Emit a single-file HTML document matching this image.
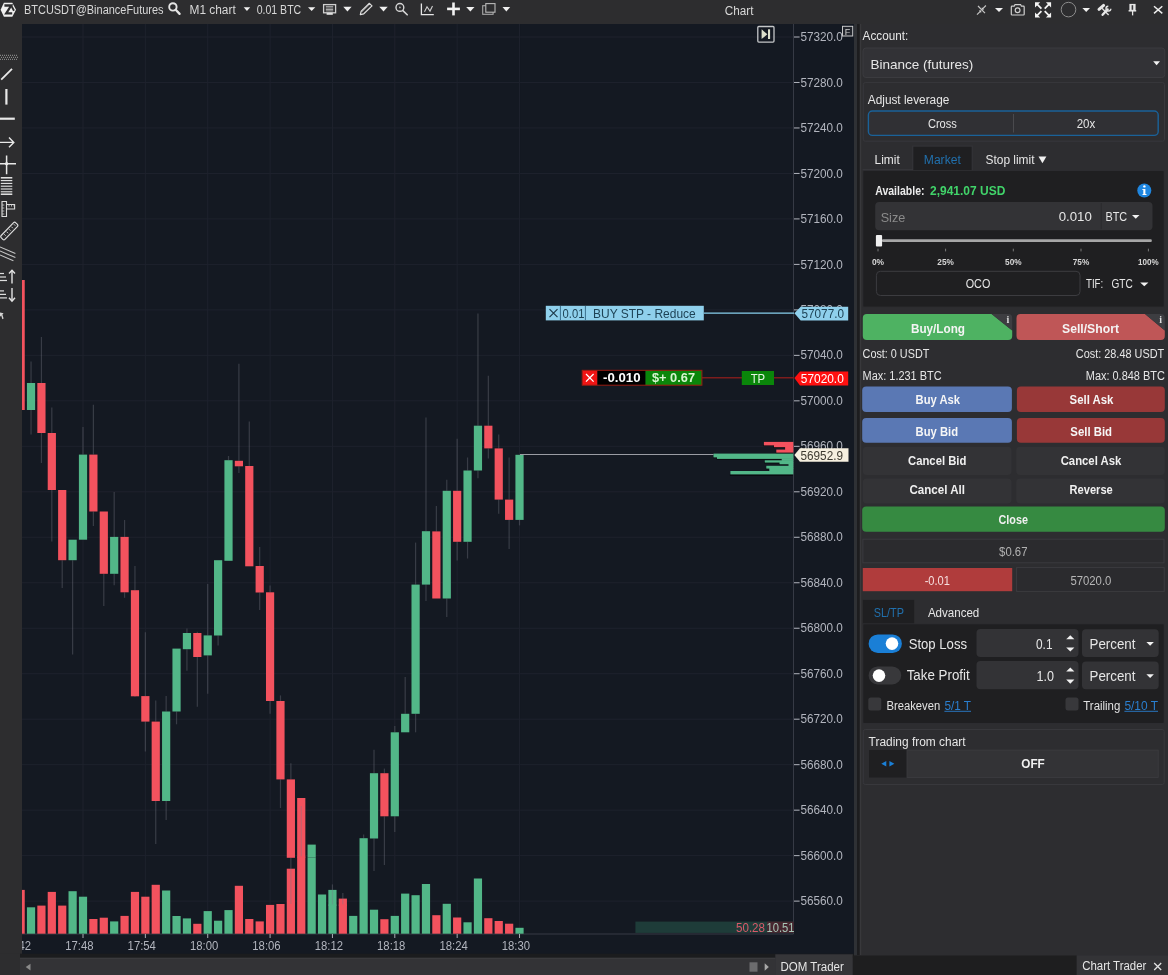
<!DOCTYPE html>
<html><head><meta charset="utf-8"><title>Chart</title>
<style>
html,body{margin:0;padding:0;background:#2d2d30;width:1168px;height:975px;overflow:hidden}
svg{display:block}
text{font-family:"Liberation Sans",Arial,sans-serif}
</style></head>
<body>
<svg width="1168" height="975" viewBox="0 0 1168 975" shape-rendering="auto">
<rect x="0.00" y="0.00" width="1168.00" height="975.00" fill="#2d2d30"/>
<rect x="0.00" y="0.00" width="1168.00" height="24.00" fill="#2d2d2f"/>
<rect x="0.00" y="24.00" width="22.00" height="931.00" fill="#2d2d2f"/>
<rect x="22.00" y="24.00" width="832.00" height="930.00" fill="#141922"/>
<line x1="22.00" y1="37.00" x2="793.50" y2="37.00" stroke="#1e222d" stroke-width="1"/>
<line x1="22.00" y1="82.48" x2="793.50" y2="82.48" stroke="#1e222d" stroke-width="1"/>
<line x1="22.00" y1="127.96" x2="793.50" y2="127.96" stroke="#1e222d" stroke-width="1"/>
<line x1="22.00" y1="173.44" x2="793.50" y2="173.44" stroke="#1e222d" stroke-width="1"/>
<line x1="22.00" y1="218.92" x2="793.50" y2="218.92" stroke="#1e222d" stroke-width="1"/>
<line x1="22.00" y1="264.40" x2="793.50" y2="264.40" stroke="#1e222d" stroke-width="1"/>
<line x1="22.00" y1="309.88" x2="793.50" y2="309.88" stroke="#1e222d" stroke-width="1"/>
<line x1="22.00" y1="355.36" x2="793.50" y2="355.36" stroke="#1e222d" stroke-width="1"/>
<line x1="22.00" y1="400.84" x2="793.50" y2="400.84" stroke="#1e222d" stroke-width="1"/>
<line x1="22.00" y1="446.32" x2="793.50" y2="446.32" stroke="#1e222d" stroke-width="1"/>
<line x1="22.00" y1="491.80" x2="793.50" y2="491.80" stroke="#1e222d" stroke-width="1"/>
<line x1="22.00" y1="537.28" x2="793.50" y2="537.28" stroke="#1e222d" stroke-width="1"/>
<line x1="22.00" y1="582.76" x2="793.50" y2="582.76" stroke="#1e222d" stroke-width="1"/>
<line x1="22.00" y1="628.24" x2="793.50" y2="628.24" stroke="#1e222d" stroke-width="1"/>
<line x1="22.00" y1="673.72" x2="793.50" y2="673.72" stroke="#1e222d" stroke-width="1"/>
<line x1="22.00" y1="719.20" x2="793.50" y2="719.20" stroke="#1e222d" stroke-width="1"/>
<line x1="22.00" y1="764.68" x2="793.50" y2="764.68" stroke="#1e222d" stroke-width="1"/>
<line x1="22.00" y1="810.16" x2="793.50" y2="810.16" stroke="#1e222d" stroke-width="1"/>
<line x1="22.00" y1="855.64" x2="793.50" y2="855.64" stroke="#1e222d" stroke-width="1"/>
<line x1="22.00" y1="901.12" x2="793.50" y2="901.12" stroke="#1e222d" stroke-width="1"/>
<line x1="83.00" y1="24.00" x2="83.00" y2="933.50" stroke="#1e222d" stroke-width="1"/>
<line x1="145.36" y1="24.00" x2="145.36" y2="933.50" stroke="#1e222d" stroke-width="1"/>
<line x1="207.72" y1="24.00" x2="207.72" y2="933.50" stroke="#1e222d" stroke-width="1"/>
<line x1="270.08" y1="24.00" x2="270.08" y2="933.50" stroke="#1e222d" stroke-width="1"/>
<line x1="332.44" y1="24.00" x2="332.44" y2="933.50" stroke="#1e222d" stroke-width="1"/>
<line x1="394.80" y1="24.00" x2="394.80" y2="933.50" stroke="#1e222d" stroke-width="1"/>
<line x1="457.16" y1="24.00" x2="457.16" y2="933.50" stroke="#1e222d" stroke-width="1"/>
<line x1="519.52" y1="24.00" x2="519.52" y2="933.50" stroke="#1e222d" stroke-width="1"/>
<defs><clipPath id="cc"><rect x="22" y="24" width="771.5" height="910"/></clipPath></defs>
<line x1="22.00" y1="934.00" x2="793.50" y2="934.00" stroke="#363a45" stroke-width="1"/>
<g clip-path="url(#cc)">
<rect x="16.54" y="889.90" width="8.20" height="43.80" fill="#f3525e"/>
<rect x="26.93" y="907.30" width="8.20" height="26.40" fill="#52b788"/>
<rect x="37.33" y="905.60" width="8.20" height="28.10" fill="#f3525e"/>
<rect x="47.72" y="891.90" width="8.20" height="41.80" fill="#f3525e"/>
<rect x="58.11" y="905.60" width="8.20" height="28.10" fill="#f3525e"/>
<rect x="68.51" y="891.20" width="8.20" height="42.50" fill="#52b788"/>
<rect x="78.90" y="896.70" width="8.20" height="37.00" fill="#52b788"/>
<rect x="89.29" y="919.00" width="8.20" height="14.70" fill="#f3525e"/>
<rect x="99.69" y="917.70" width="8.20" height="16.00" fill="#f3525e"/>
<rect x="110.08" y="921.40" width="8.20" height="12.30" fill="#52b788"/>
<rect x="120.47" y="915.90" width="8.20" height="17.80" fill="#f3525e"/>
<rect x="130.87" y="891.90" width="8.20" height="41.80" fill="#f3525e"/>
<rect x="141.26" y="896.70" width="8.20" height="37.00" fill="#f3525e"/>
<rect x="151.65" y="884.80" width="8.20" height="48.90" fill="#f3525e"/>
<rect x="162.05" y="890.50" width="8.20" height="43.20" fill="#52b788"/>
<rect x="172.44" y="916.00" width="8.20" height="17.70" fill="#52b788"/>
<rect x="182.83" y="918.40" width="8.20" height="15.30" fill="#52b788"/>
<rect x="193.23" y="923.80" width="8.20" height="9.90" fill="#f3525e"/>
<rect x="203.62" y="911.10" width="8.20" height="22.60" fill="#52b788"/>
<rect x="214.01" y="920.70" width="8.20" height="13.00" fill="#52b788"/>
<rect x="224.41" y="910.10" width="8.20" height="23.60" fill="#52b788"/>
<rect x="234.80" y="885.80" width="8.20" height="47.90" fill="#f3525e"/>
<rect x="245.19" y="919.00" width="8.20" height="14.70" fill="#f3525e"/>
<rect x="255.59" y="921.40" width="8.20" height="12.30" fill="#f3525e"/>
<rect x="265.98" y="904.90" width="8.20" height="28.80" fill="#f3525e"/>
<rect x="276.37" y="904.00" width="8.20" height="29.70" fill="#f3525e"/>
<rect x="286.77" y="868.70" width="8.20" height="65.00" fill="#f3525e"/>
<rect x="297.16" y="798.00" width="8.20" height="135.70" fill="#f3525e"/>
<rect x="307.55" y="857.50" width="8.20" height="76.20" fill="#52b788"/>
<rect x="317.95" y="894.50" width="8.20" height="39.20" fill="#52b788"/>
<rect x="328.34" y="889.90" width="8.20" height="43.80" fill="#52b788"/>
<rect x="338.73" y="898.60" width="8.20" height="35.10" fill="#f3525e"/>
<rect x="349.13" y="915.90" width="8.20" height="17.80" fill="#52b788"/>
<rect x="359.52" y="870.00" width="8.20" height="63.70" fill="#52b788"/>
<rect x="369.91" y="909.70" width="8.20" height="24.00" fill="#52b788"/>
<rect x="380.31" y="919.20" width="8.20" height="14.50" fill="#f3525e"/>
<rect x="390.70" y="915.90" width="8.20" height="17.80" fill="#52b788"/>
<rect x="401.09" y="893.60" width="8.20" height="40.10" fill="#52b788"/>
<rect x="411.49" y="895.20" width="8.20" height="38.50" fill="#52b788"/>
<rect x="421.88" y="884.00" width="8.20" height="49.70" fill="#52b788"/>
<rect x="432.27" y="915.20" width="8.20" height="18.50" fill="#f3525e"/>
<rect x="442.67" y="903.80" width="8.20" height="29.90" fill="#52b788"/>
<rect x="453.06" y="917.50" width="8.20" height="16.20" fill="#f3525e"/>
<rect x="463.45" y="922.30" width="8.20" height="11.40" fill="#52b788"/>
<rect x="473.85" y="878.50" width="8.20" height="55.20" fill="#52b788"/>
<rect x="484.24" y="918.20" width="8.20" height="15.50" fill="#f3525e"/>
<rect x="494.63" y="921.00" width="8.20" height="12.70" fill="#f3525e"/>
<rect x="505.03" y="923.70" width="8.20" height="10.00" fill="#f3525e"/>
<rect x="515.42" y="927.80" width="8.20" height="5.90" fill="#52b788"/>
<line x1="20.64" y1="410.00" x2="20.64" y2="454.60" stroke="#787b86" stroke-width="1.2" stroke-opacity="0.37"/>
<rect x="16.54" y="280.00" width="8.20" height="130.00" fill="#f3525e"/>
<line x1="31.03" y1="361.40" x2="31.03" y2="383.00" stroke="#787b86" stroke-width="1.2" stroke-opacity="0.37"/>
<line x1="31.03" y1="410.00" x2="31.03" y2="434.60" stroke="#787b86" stroke-width="1.2" stroke-opacity="0.37"/>
<rect x="26.93" y="383.00" width="8.20" height="27.00" fill="#52b788"/>
<line x1="41.43" y1="337.00" x2="41.43" y2="383.00" stroke="#787b86" stroke-width="1.2" stroke-opacity="0.37"/>
<line x1="41.43" y1="433.00" x2="41.43" y2="463.00" stroke="#787b86" stroke-width="1.2" stroke-opacity="0.37"/>
<rect x="37.33" y="383.00" width="8.20" height="50.00" fill="#f3525e"/>
<line x1="51.82" y1="407.50" x2="51.82" y2="433.00" stroke="#787b86" stroke-width="1.2" stroke-opacity="0.37"/>
<line x1="51.82" y1="490.00" x2="51.82" y2="541.40" stroke="#787b86" stroke-width="1.2" stroke-opacity="0.37"/>
<rect x="47.72" y="433.00" width="8.20" height="57.00" fill="#f3525e"/>
<line x1="62.21" y1="560.20" x2="62.21" y2="588.00" stroke="#787b86" stroke-width="1.2" stroke-opacity="0.37"/>
<rect x="58.11" y="490.00" width="8.20" height="70.20" fill="#f3525e"/>
<line x1="72.61" y1="560.20" x2="72.61" y2="654.60" stroke="#787b86" stroke-width="1.2" stroke-opacity="0.37"/>
<rect x="68.51" y="539.70" width="8.20" height="20.50" fill="#52b788"/>
<line x1="83.00" y1="427.00" x2="83.00" y2="454.60" stroke="#787b86" stroke-width="1.2" stroke-opacity="0.37"/>
<rect x="78.90" y="454.60" width="8.20" height="85.10" fill="#52b788"/>
<line x1="93.39" y1="404.80" x2="93.39" y2="454.60" stroke="#787b86" stroke-width="1.2" stroke-opacity="0.37"/>
<line x1="93.39" y1="511.50" x2="93.39" y2="526.00" stroke="#787b86" stroke-width="1.2" stroke-opacity="0.37"/>
<rect x="89.29" y="454.60" width="8.20" height="56.90" fill="#f3525e"/>
<line x1="103.79" y1="573.80" x2="103.79" y2="606.00" stroke="#787b86" stroke-width="1.2" stroke-opacity="0.37"/>
<rect x="99.69" y="511.50" width="8.20" height="62.30" fill="#f3525e"/>
<line x1="114.18" y1="492.00" x2="114.18" y2="536.90" stroke="#787b86" stroke-width="1.2" stroke-opacity="0.37"/>
<line x1="114.18" y1="573.80" x2="114.18" y2="585.30" stroke="#787b86" stroke-width="1.2" stroke-opacity="0.37"/>
<rect x="110.08" y="536.90" width="8.20" height="36.90" fill="#52b788"/>
<line x1="124.57" y1="520.00" x2="124.57" y2="536.90" stroke="#787b86" stroke-width="1.2" stroke-opacity="0.37"/>
<line x1="124.57" y1="592.30" x2="124.57" y2="597.80" stroke="#787b86" stroke-width="1.2" stroke-opacity="0.37"/>
<rect x="120.47" y="536.90" width="8.20" height="55.40" fill="#f3525e"/>
<line x1="134.97" y1="566.00" x2="134.97" y2="590.20" stroke="#787b86" stroke-width="1.2" stroke-opacity="0.37"/>
<line x1="134.97" y1="696.30" x2="134.97" y2="697.00" stroke="#787b86" stroke-width="1.2" stroke-opacity="0.37"/>
<rect x="130.87" y="590.20" width="8.20" height="106.10" fill="#f3525e"/>
<line x1="145.36" y1="632.30" x2="145.36" y2="696.10" stroke="#787b86" stroke-width="1.2" stroke-opacity="0.37"/>
<line x1="145.36" y1="721.60" x2="145.36" y2="751.40" stroke="#787b86" stroke-width="1.2" stroke-opacity="0.37"/>
<rect x="141.26" y="696.10" width="8.20" height="25.50" fill="#f3525e"/>
<line x1="155.75" y1="700.60" x2="155.75" y2="721.60" stroke="#787b86" stroke-width="1.2" stroke-opacity="0.37"/>
<line x1="155.75" y1="801.00" x2="155.75" y2="844.00" stroke="#787b86" stroke-width="1.2" stroke-opacity="0.37"/>
<rect x="151.65" y="721.60" width="8.20" height="79.40" fill="#f3525e"/>
<line x1="166.15" y1="696.00" x2="166.15" y2="711.50" stroke="#787b86" stroke-width="1.2" stroke-opacity="0.37"/>
<line x1="166.15" y1="801.00" x2="166.15" y2="820.00" stroke="#787b86" stroke-width="1.2" stroke-opacity="0.37"/>
<rect x="162.05" y="711.50" width="8.20" height="89.50" fill="#52b788"/>
<line x1="176.54" y1="711.50" x2="176.54" y2="724.30" stroke="#787b86" stroke-width="1.2" stroke-opacity="0.37"/>
<rect x="172.44" y="648.60" width="8.20" height="62.90" fill="#52b788"/>
<line x1="186.93" y1="628.60" x2="186.93" y2="633.00" stroke="#787b86" stroke-width="1.2" stroke-opacity="0.37"/>
<line x1="186.93" y1="649.20" x2="186.93" y2="670.80" stroke="#787b86" stroke-width="1.2" stroke-opacity="0.37"/>
<rect x="182.83" y="633.00" width="8.20" height="16.20" fill="#52b788"/>
<line x1="197.33" y1="631.70" x2="197.33" y2="633.00" stroke="#787b86" stroke-width="1.2" stroke-opacity="0.37"/>
<line x1="197.33" y1="657.00" x2="197.33" y2="706.80" stroke="#787b86" stroke-width="1.2" stroke-opacity="0.37"/>
<rect x="193.23" y="633.00" width="8.20" height="24.00" fill="#f3525e"/>
<line x1="207.72" y1="584.00" x2="207.72" y2="635.40" stroke="#787b86" stroke-width="1.2" stroke-opacity="0.37"/>
<line x1="207.72" y1="655.40" x2="207.72" y2="693.80" stroke="#787b86" stroke-width="1.2" stroke-opacity="0.37"/>
<rect x="203.62" y="635.40" width="8.20" height="20.00" fill="#52b788"/>
<line x1="218.11" y1="635.50" x2="218.11" y2="645.40" stroke="#787b86" stroke-width="1.2" stroke-opacity="0.37"/>
<rect x="214.01" y="560.20" width="8.20" height="75.30" fill="#52b788"/>
<line x1="228.51" y1="456.00" x2="228.51" y2="460.20" stroke="#787b86" stroke-width="1.2" stroke-opacity="0.37"/>
<rect x="224.41" y="460.20" width="8.20" height="100.60" fill="#52b788"/>
<line x1="238.90" y1="363.80" x2="238.90" y2="460.80" stroke="#787b86" stroke-width="1.2" stroke-opacity="0.37"/>
<line x1="238.90" y1="466.30" x2="238.90" y2="473.00" stroke="#787b86" stroke-width="1.2" stroke-opacity="0.37"/>
<rect x="234.80" y="460.80" width="8.20" height="5.50" fill="#f3525e"/>
<line x1="249.29" y1="421.40" x2="249.29" y2="466.00" stroke="#787b86" stroke-width="1.2" stroke-opacity="0.37"/>
<rect x="245.19" y="466.00" width="8.20" height="100.30" fill="#f3525e"/>
<line x1="259.69" y1="547.00" x2="259.69" y2="566.00" stroke="#787b86" stroke-width="1.2" stroke-opacity="0.37"/>
<line x1="259.69" y1="592.50" x2="259.69" y2="610.00" stroke="#787b86" stroke-width="1.2" stroke-opacity="0.37"/>
<rect x="255.59" y="566.00" width="8.20" height="26.50" fill="#f3525e"/>
<line x1="270.08" y1="585.50" x2="270.08" y2="592.30" stroke="#787b86" stroke-width="1.2" stroke-opacity="0.37"/>
<line x1="270.08" y1="701.00" x2="270.08" y2="713.80" stroke="#787b86" stroke-width="1.2" stroke-opacity="0.37"/>
<rect x="265.98" y="592.30" width="8.20" height="108.70" fill="#f3525e"/>
<line x1="280.47" y1="695.40" x2="280.47" y2="701.00" stroke="#787b86" stroke-width="1.2" stroke-opacity="0.37"/>
<line x1="280.47" y1="779.40" x2="280.47" y2="808.00" stroke="#787b86" stroke-width="1.2" stroke-opacity="0.37"/>
<rect x="276.37" y="701.00" width="8.20" height="78.40" fill="#f3525e"/>
<line x1="290.87" y1="763.30" x2="290.87" y2="779.40" stroke="#787b86" stroke-width="1.2" stroke-opacity="0.37"/>
<line x1="290.87" y1="857.80" x2="290.87" y2="904.00" stroke="#787b86" stroke-width="1.2" stroke-opacity="0.37"/>
<rect x="286.77" y="779.40" width="8.20" height="78.40" fill="#f3525e"/>
<line x1="301.26" y1="806.00" x2="301.26" y2="856.60" stroke="#787b86" stroke-width="1.2" stroke-opacity="0.37"/>
<rect x="297.16" y="856.60" width="8.20" height="1.00" fill="#f3525e"/>
<rect x="307.55" y="844.60" width="8.20" height="12.90" fill="#52b788"/>
<line x1="332.44" y1="884.40" x2="332.44" y2="904.60" stroke="#787b86" stroke-width="1.2" stroke-opacity="0.37"/>
<rect x="328.34" y="904.60" width="8.20" height="1.00" fill="#52b788"/>
<line x1="342.83" y1="892.90" x2="342.83" y2="904.60" stroke="#787b86" stroke-width="1.2" stroke-opacity="0.37"/>
<rect x="338.73" y="904.60" width="8.20" height="1.00" fill="#f3525e"/>
<line x1="363.62" y1="834.50" x2="363.62" y2="838.20" stroke="#787b86" stroke-width="1.2" stroke-opacity="0.37"/>
<rect x="359.52" y="838.20" width="8.20" height="31.80" fill="#52b788"/>
<line x1="374.01" y1="749.80" x2="374.01" y2="773.20" stroke="#787b86" stroke-width="1.2" stroke-opacity="0.37"/>
<line x1="374.01" y1="838.50" x2="374.01" y2="871.00" stroke="#787b86" stroke-width="1.2" stroke-opacity="0.37"/>
<rect x="369.91" y="773.20" width="8.20" height="65.30" fill="#52b788"/>
<line x1="384.41" y1="768.60" x2="384.41" y2="773.20" stroke="#787b86" stroke-width="1.2" stroke-opacity="0.37"/>
<line x1="384.41" y1="816.30" x2="384.41" y2="865.00" stroke="#787b86" stroke-width="1.2" stroke-opacity="0.37"/>
<rect x="380.31" y="773.20" width="8.20" height="43.10" fill="#f3525e"/>
<line x1="394.80" y1="726.00" x2="394.80" y2="732.30" stroke="#787b86" stroke-width="1.2" stroke-opacity="0.37"/>
<line x1="394.80" y1="816.30" x2="394.80" y2="832.00" stroke="#787b86" stroke-width="1.2" stroke-opacity="0.37"/>
<rect x="390.70" y="732.30" width="8.20" height="84.00" fill="#52b788"/>
<line x1="405.19" y1="677.00" x2="405.19" y2="713.80" stroke="#787b86" stroke-width="1.2" stroke-opacity="0.37"/>
<rect x="401.09" y="713.80" width="8.20" height="18.50" fill="#52b788"/>
<line x1="415.59" y1="542.60" x2="415.59" y2="584.60" stroke="#787b86" stroke-width="1.2" stroke-opacity="0.37"/>
<line x1="415.59" y1="713.80" x2="415.59" y2="732.30" stroke="#787b86" stroke-width="1.2" stroke-opacity="0.37"/>
<rect x="411.49" y="584.60" width="8.20" height="129.20" fill="#52b788"/>
<line x1="425.98" y1="417.40" x2="425.98" y2="531.20" stroke="#787b86" stroke-width="1.2" stroke-opacity="0.37"/>
<line x1="425.98" y1="584.60" x2="425.98" y2="601.00" stroke="#787b86" stroke-width="1.2" stroke-opacity="0.37"/>
<rect x="421.88" y="531.20" width="8.20" height="53.40" fill="#52b788"/>
<line x1="436.37" y1="506.00" x2="436.37" y2="531.40" stroke="#787b86" stroke-width="1.2" stroke-opacity="0.37"/>
<rect x="432.27" y="531.40" width="8.20" height="67.10" fill="#f3525e"/>
<line x1="446.77" y1="479.70" x2="446.77" y2="490.80" stroke="#787b86" stroke-width="1.2" stroke-opacity="0.37"/>
<line x1="446.77" y1="598.50" x2="446.77" y2="617.00" stroke="#787b86" stroke-width="1.2" stroke-opacity="0.37"/>
<rect x="442.67" y="490.80" width="8.20" height="107.70" fill="#52b788"/>
<line x1="457.16" y1="438.70" x2="457.16" y2="490.80" stroke="#787b86" stroke-width="1.2" stroke-opacity="0.37"/>
<line x1="457.16" y1="541.80" x2="457.16" y2="560.60" stroke="#787b86" stroke-width="1.2" stroke-opacity="0.37"/>
<rect x="453.06" y="490.80" width="8.20" height="51.00" fill="#f3525e"/>
<line x1="467.55" y1="457.50" x2="467.55" y2="470.50" stroke="#787b86" stroke-width="1.2" stroke-opacity="0.37"/>
<line x1="467.55" y1="541.80" x2="467.55" y2="558.50" stroke="#787b86" stroke-width="1.2" stroke-opacity="0.37"/>
<rect x="463.45" y="470.50" width="8.20" height="71.30" fill="#52b788"/>
<line x1="477.95" y1="313.50" x2="477.95" y2="425.70" stroke="#787b86" stroke-width="1.2" stroke-opacity="0.37"/>
<line x1="477.95" y1="470.50" x2="477.95" y2="478.30" stroke="#787b86" stroke-width="1.2" stroke-opacity="0.37"/>
<rect x="473.85" y="425.70" width="8.20" height="44.80" fill="#52b788"/>
<line x1="488.34" y1="375.80" x2="488.34" y2="425.70" stroke="#787b86" stroke-width="1.2" stroke-opacity="0.37"/>
<line x1="488.34" y1="448.40" x2="488.34" y2="458.40" stroke="#787b86" stroke-width="1.2" stroke-opacity="0.37"/>
<rect x="484.24" y="425.70" width="8.20" height="22.70" fill="#f3525e"/>
<line x1="498.73" y1="434.60" x2="498.73" y2="448.40" stroke="#787b86" stroke-width="1.2" stroke-opacity="0.37"/>
<line x1="498.73" y1="499.60" x2="498.73" y2="513.80" stroke="#787b86" stroke-width="1.2" stroke-opacity="0.37"/>
<rect x="494.63" y="448.40" width="8.20" height="51.20" fill="#f3525e"/>
<line x1="509.13" y1="457.50" x2="509.13" y2="499.60" stroke="#787b86" stroke-width="1.2" stroke-opacity="0.37"/>
<line x1="509.13" y1="519.90" x2="509.13" y2="549.00" stroke="#787b86" stroke-width="1.2" stroke-opacity="0.37"/>
<rect x="505.03" y="499.60" width="8.20" height="20.30" fill="#f3525e"/>
<line x1="519.52" y1="519.90" x2="519.52" y2="525.40" stroke="#787b86" stroke-width="1.2" stroke-opacity="0.37"/>
<rect x="515.42" y="454.80" width="8.20" height="65.10" fill="#52b788"/>
</g>
<line x1="83.00" y1="934.00" x2="83.00" y2="938.00" stroke="#a8abb3" stroke-width="1"/>
<text x="79.40" y="949.60" font-size="12.5" fill="#b2b5be" text-anchor="middle" textLength="28.30" lengthAdjust="spacingAndGlyphs">17:48</text>
<line x1="145.36" y1="934.00" x2="145.36" y2="938.00" stroke="#a8abb3" stroke-width="1"/>
<text x="141.76" y="949.60" font-size="12.5" fill="#b2b5be" text-anchor="middle" textLength="28.30" lengthAdjust="spacingAndGlyphs">17:54</text>
<line x1="207.72" y1="934.00" x2="207.72" y2="938.00" stroke="#a8abb3" stroke-width="1"/>
<text x="204.12" y="949.60" font-size="12.5" fill="#b2b5be" text-anchor="middle" textLength="28.30" lengthAdjust="spacingAndGlyphs">18:00</text>
<line x1="270.08" y1="934.00" x2="270.08" y2="938.00" stroke="#a8abb3" stroke-width="1"/>
<text x="266.48" y="949.60" font-size="12.5" fill="#b2b5be" text-anchor="middle" textLength="28.30" lengthAdjust="spacingAndGlyphs">18:06</text>
<line x1="332.44" y1="934.00" x2="332.44" y2="938.00" stroke="#a8abb3" stroke-width="1"/>
<text x="328.84" y="949.60" font-size="12.5" fill="#b2b5be" text-anchor="middle" textLength="28.30" lengthAdjust="spacingAndGlyphs">18:12</text>
<line x1="394.80" y1="934.00" x2="394.80" y2="938.00" stroke="#a8abb3" stroke-width="1"/>
<text x="391.20" y="949.60" font-size="12.5" fill="#b2b5be" text-anchor="middle" textLength="28.30" lengthAdjust="spacingAndGlyphs">18:18</text>
<line x1="457.16" y1="934.00" x2="457.16" y2="938.00" stroke="#a8abb3" stroke-width="1"/>
<text x="453.56" y="949.60" font-size="12.5" fill="#b2b5be" text-anchor="middle" textLength="28.30" lengthAdjust="spacingAndGlyphs">18:24</text>
<line x1="519.52" y1="934.00" x2="519.52" y2="938.00" stroke="#a8abb3" stroke-width="1"/>
<text x="515.92" y="949.60" font-size="12.5" fill="#b2b5be" text-anchor="middle" textLength="28.30" lengthAdjust="spacingAndGlyphs">18:30</text>
<g clip-path="url(#cc2)"><text x="17.0" y="949.6" font-size="12.5" fill="#b2b5be" text-anchor="middle" textLength="28.3" lengthAdjust="spacingAndGlyphs">17:42</text></g>
<defs><clipPath id="cc2"><rect x="22" y="934" width="100" height="20"/></clipPath></defs>
<line x1="793.50" y1="24.00" x2="793.50" y2="934.00" stroke="#363a45" stroke-width="1"/>
<line x1="794.00" y1="37.00" x2="799.60" y2="37.00" stroke="#b2b5be" stroke-width="1"/>
<text x="800.40" y="41.10" font-size="12.5" fill="#b2b5be" textLength="42.50" lengthAdjust="spacingAndGlyphs">57320.0</text>
<line x1="794.00" y1="82.48" x2="799.60" y2="82.48" stroke="#b2b5be" stroke-width="1"/>
<text x="800.40" y="86.58" font-size="12.5" fill="#b2b5be" textLength="42.50" lengthAdjust="spacingAndGlyphs">57280.0</text>
<line x1="794.00" y1="127.96" x2="799.60" y2="127.96" stroke="#b2b5be" stroke-width="1"/>
<text x="800.40" y="132.06" font-size="12.5" fill="#b2b5be" textLength="42.50" lengthAdjust="spacingAndGlyphs">57240.0</text>
<line x1="794.00" y1="173.44" x2="799.60" y2="173.44" stroke="#b2b5be" stroke-width="1"/>
<text x="800.40" y="177.54" font-size="12.5" fill="#b2b5be" textLength="42.50" lengthAdjust="spacingAndGlyphs">57200.0</text>
<line x1="794.00" y1="218.92" x2="799.60" y2="218.92" stroke="#b2b5be" stroke-width="1"/>
<text x="800.40" y="223.02" font-size="12.5" fill="#b2b5be" textLength="42.50" lengthAdjust="spacingAndGlyphs">57160.0</text>
<line x1="794.00" y1="264.40" x2="799.60" y2="264.40" stroke="#b2b5be" stroke-width="1"/>
<text x="800.40" y="268.50" font-size="12.5" fill="#b2b5be" textLength="42.50" lengthAdjust="spacingAndGlyphs">57120.0</text>
<line x1="794.00" y1="309.88" x2="799.60" y2="309.88" stroke="#b2b5be" stroke-width="1"/>
<text x="800.40" y="313.98" font-size="12.5" fill="#b2b5be" textLength="42.50" lengthAdjust="spacingAndGlyphs">57080.0</text>
<line x1="794.00" y1="355.36" x2="799.60" y2="355.36" stroke="#b2b5be" stroke-width="1"/>
<text x="800.40" y="359.46" font-size="12.5" fill="#b2b5be" textLength="42.50" lengthAdjust="spacingAndGlyphs">57040.0</text>
<line x1="794.00" y1="400.84" x2="799.60" y2="400.84" stroke="#b2b5be" stroke-width="1"/>
<text x="800.40" y="404.94" font-size="12.5" fill="#b2b5be" textLength="42.50" lengthAdjust="spacingAndGlyphs">57000.0</text>
<line x1="794.00" y1="446.32" x2="799.60" y2="446.32" stroke="#b2b5be" stroke-width="1"/>
<text x="800.40" y="450.42" font-size="12.5" fill="#b2b5be" textLength="42.50" lengthAdjust="spacingAndGlyphs">56960.0</text>
<line x1="794.00" y1="491.80" x2="799.60" y2="491.80" stroke="#b2b5be" stroke-width="1"/>
<text x="800.40" y="495.90" font-size="12.5" fill="#b2b5be" textLength="42.50" lengthAdjust="spacingAndGlyphs">56920.0</text>
<line x1="794.00" y1="537.28" x2="799.60" y2="537.28" stroke="#b2b5be" stroke-width="1"/>
<text x="800.40" y="541.38" font-size="12.5" fill="#b2b5be" textLength="42.50" lengthAdjust="spacingAndGlyphs">56880.0</text>
<line x1="794.00" y1="582.76" x2="799.60" y2="582.76" stroke="#b2b5be" stroke-width="1"/>
<text x="800.40" y="586.86" font-size="12.5" fill="#b2b5be" textLength="42.50" lengthAdjust="spacingAndGlyphs">56840.0</text>
<line x1="794.00" y1="628.24" x2="799.60" y2="628.24" stroke="#b2b5be" stroke-width="1"/>
<text x="800.40" y="632.34" font-size="12.5" fill="#b2b5be" textLength="42.50" lengthAdjust="spacingAndGlyphs">56800.0</text>
<line x1="794.00" y1="673.72" x2="799.60" y2="673.72" stroke="#b2b5be" stroke-width="1"/>
<text x="800.40" y="677.82" font-size="12.5" fill="#b2b5be" textLength="42.50" lengthAdjust="spacingAndGlyphs">56760.0</text>
<line x1="794.00" y1="719.20" x2="799.60" y2="719.20" stroke="#b2b5be" stroke-width="1"/>
<text x="800.40" y="723.30" font-size="12.5" fill="#b2b5be" textLength="42.50" lengthAdjust="spacingAndGlyphs">56720.0</text>
<line x1="794.00" y1="764.68" x2="799.60" y2="764.68" stroke="#b2b5be" stroke-width="1"/>
<text x="800.40" y="768.78" font-size="12.5" fill="#b2b5be" textLength="42.50" lengthAdjust="spacingAndGlyphs">56680.0</text>
<line x1="794.00" y1="810.16" x2="799.60" y2="810.16" stroke="#b2b5be" stroke-width="1"/>
<text x="800.40" y="814.26" font-size="12.5" fill="#b2b5be" textLength="42.50" lengthAdjust="spacingAndGlyphs">56640.0</text>
<line x1="794.00" y1="855.64" x2="799.60" y2="855.64" stroke="#b2b5be" stroke-width="1"/>
<text x="800.40" y="859.74" font-size="12.5" fill="#b2b5be" textLength="42.50" lengthAdjust="spacingAndGlyphs">56600.0</text>
<line x1="794.00" y1="901.12" x2="799.60" y2="901.12" stroke="#b2b5be" stroke-width="1"/>
<text x="800.40" y="905.22" font-size="12.5" fill="#b2b5be" textLength="42.50" lengthAdjust="spacingAndGlyphs">56560.0</text>
<rect x="763.40" y="444.80" width="29.40" height="1.40" fill="#07090c"/>
<rect x="773.50" y="446.60" width="19.30" height="1.40" fill="#07090c"/>
<rect x="784.60" y="449.60" width="8.20" height="1.40" fill="#07090c"/>
<rect x="775.80" y="452.60" width="17.00" height="1.40" fill="#07090c"/>
<rect x="713.00" y="456.80" width="79.80" height="1.40" fill="#07090c"/>
<rect x="716.50" y="458.30" width="76.30" height="1.40" fill="#07090c"/>
<rect x="781.20" y="460.30" width="11.60" height="1.40" fill="#07090c"/>
<rect x="764.30" y="462.00" width="28.50" height="1.40" fill="#07090c"/>
<rect x="779.00" y="463.70" width="13.80" height="1.40" fill="#07090c"/>
<rect x="788.00" y="465.80" width="4.80" height="1.40" fill="#07090c"/>
<rect x="765.80" y="468.00" width="27.00" height="1.40" fill="#07090c"/>
<rect x="768.80" y="470.50" width="24.00" height="1.40" fill="#07090c"/>
<rect x="729.90" y="474.40" width="62.90" height="1.40" fill="#07090c"/>
<rect x="763.90" y="441.90" width="29.40" height="3.50" fill="#f3525e"/>
<rect x="774.00" y="444.80" width="19.30" height="2.40" fill="#f3525e"/>
<rect x="785.10" y="446.60" width="8.20" height="3.60" fill="#f3525e"/>
<rect x="776.30" y="449.60" width="17.00" height="3.00" fill="#f3525e"/>
<rect x="713.50" y="453.60" width="79.80" height="3.80" fill="#52b788"/>
<rect x="717.00" y="456.80" width="76.30" height="2.10" fill="#52b788"/>
<rect x="781.70" y="458.30" width="11.60" height="2.60" fill="#52b788"/>
<rect x="764.80" y="460.30" width="28.50" height="2.30" fill="#52b788"/>
<rect x="779.50" y="462.00" width="13.80" height="2.30" fill="#52b788"/>
<rect x="788.50" y="463.70" width="4.80" height="2.70" fill="#52b788"/>
<rect x="766.30" y="465.80" width="27.00" height="2.80" fill="#52b788"/>
<rect x="769.30" y="468.00" width="24.00" height="3.10" fill="#52b788"/>
<rect x="730.40" y="471.00" width="62.90" height="3.40" fill="#52b788"/>
<line x1="520.00" y1="454.50" x2="713.50" y2="454.50" stroke="#9a9ca3" stroke-width="1"/>
<line x1="703.80" y1="313.20" x2="794.00" y2="313.20" stroke="#87cfee" stroke-width="1.2"/>
<rect x="545.80" y="305.80" width="158.00" height="14.60" fill="#8fd0ec"/>
<line x1="560.40" y1="306.00" x2="560.40" y2="320.20" stroke="#3a6f8c" stroke-width="1"/>
<line x1="585.40" y1="306.00" x2="585.40" y2="320.20" stroke="#3a6f8c" stroke-width="1"/>
<path d="M549.5 309.2 L557.5 317.2 M557.5 309.2 L549.5 317.2" fill="none" stroke="#1e3a4a" stroke-width="1.2"/>
<text x="562.60" y="317.60" font-size="12" fill="#1e4356" textLength="21.80" lengthAdjust="spacingAndGlyphs">0.01</text>
<text x="593.00" y="317.60" font-size="12" fill="#1e4356" textLength="102.70" lengthAdjust="spacingAndGlyphs">BUY STP - Reduce</text>
<path d="M794.4 313.3 L800.7 306.8 L848.2 306.8 L848.2 320.5 L800.7 320.5 Z" fill="#8fd0ec"/>
<text x="801.50" y="318.20" font-size="12.5" fill="#1e4356" textLength="42.50" lengthAdjust="spacingAndGlyphs">57077.0</text>
<line x1="702.00" y1="377.80" x2="794.00" y2="377.80" stroke="#7d1d1d" stroke-width="1.5"/>
<rect x="582.20" y="370.30" width="15.30" height="14.90" fill="#f01414"/>
<path d="M586 374 L593.6 381.6 M593.6 374 L586 381.6" fill="none" stroke="#ffffff" stroke-width="1.3"/>
<rect x="597.50" y="370.30" width="48.00" height="14.90" fill="#000000"/>
<rect x="645.50" y="370.30" width="56.40" height="14.90" fill="#0a860a"/>
<rect x="582.20" y="370.30" width="119.70" height="14.90" fill="none" stroke="#9a1c12" stroke-width="1"/>
<text x="603.00" y="382.20" font-size="12" fill="#ffffff" font-weight="bold" textLength="37.50" lengthAdjust="spacingAndGlyphs">-0.010</text>
<text x="652.00" y="382.20" font-size="12" fill="#d8f5d0" font-weight="bold" textLength="43.00" lengthAdjust="spacingAndGlyphs">$+ 0.67</text>
<rect x="741.80" y="371.00" width="32.20" height="14.00" fill="#0a860a"/>
<text x="757.90" y="382.50" font-size="12" fill="#e6f6e6" text-anchor="middle" textLength="14.50" lengthAdjust="spacingAndGlyphs">TP</text>
<path d="M794.4 378 L800 371.5 L848.2 371.5 L848.2 385.6 L800 385.6 Z" fill="#ff1010"/>
<text x="800.80" y="383.20" font-size="12.5" fill="#ffffff" textLength="43.00" lengthAdjust="spacingAndGlyphs">57020.0</text>
<path d="M794.4 455 L799.9 448.2 L848.5 448.2 L848.5 461.8 L799.9 461.8 Z" fill="#f6efdf"/>
<text x="800.50" y="459.80" font-size="12.5" fill="#3e3a30" textLength="42.50" lengthAdjust="spacingAndGlyphs">56952.9</text>
<rect x="635.40" y="921.60" width="158.40" height="11.30" fill="#1e3c39"/>
<rect x="767.00" y="921.60" width="26.80" height="11.30" fill="#46262f"/>
<text x="736.00" y="931.80" font-size="12.5" fill="#d95a6a" textLength="29.00" lengthAdjust="spacingAndGlyphs">50.28</text>
<text x="766.50" y="931.80" font-size="12.5" fill="#a6c6b6" textLength="28.00" lengthAdjust="spacingAndGlyphs">10.51</text>
<rect x="757.80" y="26.50" width="16.20" height="15.60" fill="none" rx="1" stroke="#c4c6c8" stroke-width="1.3"/>
<path d="M761.6 29.3 L767.4 34.2 L761.6 39 Z" fill="#dcdfcc"/>
<rect x="768.00" y="29.30" width="2.10" height="9.70" fill="#dcdfcc"/>
<rect x="842.50" y="26.30" width="10.20" height="9.70" fill="#22252c" stroke="#c8c8c8" stroke-width="1"/>
<text x="847.60" y="34.60" font-size="9" fill="#d0d0d0" text-anchor="middle">F</text>
<rect x="854.00" y="24.00" width="3.00" height="931.00" fill="#2f3135"/>
<rect x="857.00" y="24.00" width="2.80" height="931.00" fill="#1d1d1f"/>
<rect x="859.80" y="24.00" width="1.40" height="931.00" fill="#38383b"/>
<rect x="0.00" y="953.70" width="22.00" height="21.30" fill="#2d2d2f"/>
<rect x="20.00" y="953.70" width="834.00" height="4.10" fill="#1b1c1e"/>
<rect x="20.00" y="957.80" width="755.30" height="17.20" fill="#333336"/>
<rect x="20.00" y="957.80" width="755.30" height="1.20" fill="#3a3a3d"/>
<rect x="775.30" y="954.30" width="77.50" height="20.70" fill="#363639"/>
<rect x="852.80" y="955.50" width="224.00" height="19.50" fill="#1e1e1f"/>
<rect x="1076.70" y="955.50" width="91.30" height="19.50" fill="#333336"/>
<path d="M30.5 963.7 L25.7 967.1 L30.5 970.5 Z" fill="#8a8a8a"/>
<rect x="749.50" y="962.30" width="8.00" height="9.40" fill="#6c6c6e"/>
<path d="M764.7 963.2 L768.8 967 L764.7 970.8 Z" fill="#a8a8a8"/>
<text x="780.50" y="971.00" font-size="12" fill="#e6e6e6" textLength="63.30" lengthAdjust="spacingAndGlyphs">DOM Trader</text>
<text x="1082.20" y="970.20" font-size="12" fill="#e6e6e6" textLength="64.10" lengthAdjust="spacingAndGlyphs">Chart Trader</text>
<path d="M1154.2 963 L1161.2 970 M1161.2 963 L1154.2 970" fill="none" stroke="#e0e0e0" stroke-width="1.3"/>
<path d="M3.9 2.7 L12.3 2.7 L16 9.7 L12.3 16.8 L3.9 16.8 L0.6 9.7 Z" fill="#efefef"/>
<path d="M4.4 5.5 L11.2 5.5 L6.2 13.4 L12.2 13.4" fill="none" stroke="#2d2d2f" stroke-width="2.3" stroke-linejoin="miter"/>
<path d="M11.2 5.5 L14 10.8" fill="none" stroke="#2d2d2f" stroke-width="1.9"/>
<text x="24.00" y="14.00" font-size="12.5" fill="#d8d8d8" textLength="139.50" lengthAdjust="spacingAndGlyphs">BTCUSDT@BinanceFutures</text>
<circle cx="172.9" cy="6.9" r="3.7" fill="none" stroke="#e4e4e4" stroke-width="1.9"/>
<path d="M175.7 9.8 L179.6 13.9" fill="none" stroke="#e4e4e4" stroke-width="2.3" stroke-linecap="round"/>
<text x="189.50" y="14.00" font-size="12.5" fill="#d8d8d8" textLength="46.20" lengthAdjust="spacingAndGlyphs">M1 chart</text>
<path d="M243.7 7.2 L250.2 7.2 L246.95 11.1 Z" fill="#f0f0f0"/>
<text x="256.70" y="14.00" font-size="12.5" fill="#d8d8d8" textLength="44.50" lengthAdjust="spacingAndGlyphs">0.01 BTC</text>
<path d="M308 7.2 L315.3 7.2 L311.65 11.1 Z" fill="#f0f0f0"/>
<rect x="323.60" y="4.60" width="12.00" height="8.20" fill="none" stroke="#d0d0d0" stroke-width="1.3"/>
<line x1="325.80" y1="6.40" x2="333.20" y2="6.40" stroke="#b8b8b8" stroke-width="0.9"/>
<line x1="325.80" y1="8.00" x2="333.20" y2="8.00" stroke="#b8b8b8" stroke-width="0.9"/>
<line x1="325.80" y1="9.50" x2="333.20" y2="9.50" stroke="#b8b8b8" stroke-width="0.9"/>
<line x1="325.80" y1="10.90" x2="333.20" y2="10.90" stroke="#b8b8b8" stroke-width="0.9"/>
<rect x="326.60" y="12.80" width="6.20" height="2.00" fill="#e0e0e0"/>
<path d="M343.3 6.8 L351.6 6.8 L347.45000000000005 11.4 Z" fill="#f0f0f0"/>
<path d="M360.3 14.6 L361.2 11.2 L369.4 3.3 L372 5.9 L363.8 13.8 Z" fill="none" stroke="#dedede" stroke-width="1.2" stroke-linejoin="round"/>
<line x1="362.00" y1="11.90" x2="369.60" y2="4.60" stroke="#9a9a9a" stroke-width="0.8"/>
<path d="M379.3 6.8 L387.7 6.8 L383.5 11.4 Z" fill="#f0f0f0"/>
<circle cx="399.9" cy="7.4" r="3.9" fill="none" stroke="#d6d6d6" stroke-width="1.4"/>
<circle cx="399.9" cy="7.4" r="0.9" fill="#b0b0b0"/>
<path d="M402.9 10.6 L407.2 14.8" fill="none" stroke="#d6d6d6" stroke-width="1.6" stroke-linecap="round"/>
<path d="M421.4 3.4 L421.4 14.6 L433.8 14.6" fill="none" stroke="#e6e6e6" stroke-width="1.3"/>
<path d="M424.5 11.7 L427 6.8 L430 11.1 L432.5 5.9" fill="none" stroke="#d0d0d0" stroke-width="1.1"/>
<rect x="452.20" y="2.50" width="2.60" height="12.90" fill="#f2f2f2"/>
<rect x="447.10" y="7.60" width="12.80" height="2.60" fill="#f2f2f2"/>
<path d="M466.2 7.1 L474.5 7.1 L470.35 11.4 Z" fill="#f0f0f0"/>
<rect x="482.70" y="5.70" width="10.40" height="8.60" fill="#2d2d2f" stroke="#a8a8a8" stroke-width="1.1"/>
<rect x="485.80" y="3.60" width="9.20" height="8.60" fill="#2d2d2f" stroke="#b8b8b8" stroke-width="1.1"/>
<path d="M502.5 7.1 L510.2 7.1 L506.35 11.4 Z" fill="#f0f0f0"/>
<text x="724.80" y="14.60" font-size="12.5" fill="#d8d8d8" textLength="28.60" lengthAdjust="spacingAndGlyphs">Chart</text>
<path d="M978 6 L985 13.2 M985.9 5.5 L982.6 8.8 M977 14.6 L980.3 11.3" fill="none" stroke="#c4c4c4" stroke-width="1.2"/>
<path d="M981.6 9.8 L981.9 7.2 L984.2 9.5 Z M981.4 10.3 L978.8 10.6 L981.1 12.9 Z" fill="#d0d0d0"/>
<path d="M995 7.9 L1003 7.9 L999.0 11.9 Z" fill="#f0f0f0"/>
<path d="M1011.3 7 Q1011.3 6.2 1012.1 6.2 L1014.2 6.2 L1015 4.6 L1020.6 4.6 L1021.4 6.2 L1023.4 6.2 Q1024.2 6.2 1024.2 7 L1024.2 14.3 Q1024.2 15 1023.4 15 L1012.1 15 Q1011.3 15 1011.3 14.3 Z" fill="none" stroke="#cfcfcf" stroke-width="1.2"/>
<circle cx="1017.6" cy="10.3" r="2.4" fill="none" stroke="#cfcfcf" stroke-width="1.2"/>
<path d="M1036.5 3.7 L1041.4 8.6 M1049.6 3.7 L1044.7 8.6 M1036.5 16.1 L1041.4 11.2 M1049.6 16.1 L1044.7 11.2" fill="none" stroke="#f4f4f4" stroke-width="1.8"/>
<path d="M1035 2.2 L1040.2 2.2 L1035 7.4 Z M1051.1 2.2 L1045.9 2.2 L1051.1 7.4 Z M1035 17.6 L1040.2 17.6 L1035 12.4 Z M1051.1 17.6 L1045.9 17.6 L1051.1 12.4 Z" fill="#f4f4f4"/>
<circle cx="1068.5" cy="9.6" r="7.3" fill="none" stroke="#8c8c8c" stroke-width="1"/>
<path d="M1082.4 8.1 L1090 8.1 L1086.2 12 Z" fill="#f0f0f0"/>
<path d="M1099 9.3 L1103.6 5.4" fill="none" stroke="#e8e8e8" stroke-width="3" stroke-linecap="round"/>
<path d="M1101.3 7.4 L1108.6 15" fill="none" stroke="#dcdcdc" stroke-width="1.4"/>
<path d="M1102.6 14.8 L1107.6 9.4" fill="none" stroke="#e8e8e8" stroke-width="2.4" stroke-linecap="round"/>
<path d="M1108.3 6.3 A2.4 2.4 0 1 0 1110.8 8.8" fill="none" stroke="#e0e0e0" stroke-width="1.5"/>
<rect x="1129.40" y="3.90" width="6.20" height="6.90" fill="#e6e6e6"/>
<rect x="1131.60" y="5.20" width="1.60" height="4.60" fill="#3a3a3c"/>
<line x1="1128.60" y1="10.80" x2="1136.20" y2="10.80" stroke="#e6e6e6" stroke-width="1.5"/>
<line x1="1132.60" y1="10.80" x2="1132.60" y2="15.40" stroke="#e6e6e6" stroke-width="1.3"/>
<path d="M1154 6.3 L1162.3 13.4 M1162.3 6.3 L1154 13.4" fill="none" stroke="#ededed" stroke-width="1.5"/>
<rect x="0.00" y="54.80" width="1.00" height="1.00" fill="#9a9a9a"/>
<rect x="1.00" y="56.80" width="1.00" height="1.00" fill="#9a9a9a"/>
<rect x="0.00" y="58.80" width="1.00" height="1.00" fill="#9a9a9a"/>
<rect x="2.00" y="54.80" width="1.00" height="1.00" fill="#9a9a9a"/>
<rect x="3.00" y="56.80" width="1.00" height="1.00" fill="#9a9a9a"/>
<rect x="2.00" y="58.80" width="1.00" height="1.00" fill="#9a9a9a"/>
<rect x="4.00" y="54.80" width="1.00" height="1.00" fill="#9a9a9a"/>
<rect x="5.00" y="56.80" width="1.00" height="1.00" fill="#9a9a9a"/>
<rect x="4.00" y="58.80" width="1.00" height="1.00" fill="#9a9a9a"/>
<rect x="6.00" y="54.80" width="1.00" height="1.00" fill="#9a9a9a"/>
<rect x="7.00" y="56.80" width="1.00" height="1.00" fill="#9a9a9a"/>
<rect x="6.00" y="58.80" width="1.00" height="1.00" fill="#9a9a9a"/>
<rect x="8.00" y="54.80" width="1.00" height="1.00" fill="#9a9a9a"/>
<rect x="9.00" y="56.80" width="1.00" height="1.00" fill="#9a9a9a"/>
<rect x="8.00" y="58.80" width="1.00" height="1.00" fill="#9a9a9a"/>
<rect x="10.00" y="54.80" width="1.00" height="1.00" fill="#9a9a9a"/>
<rect x="11.00" y="56.80" width="1.00" height="1.00" fill="#9a9a9a"/>
<rect x="10.00" y="58.80" width="1.00" height="1.00" fill="#9a9a9a"/>
<rect x="12.00" y="54.80" width="1.00" height="1.00" fill="#9a9a9a"/>
<rect x="13.00" y="56.80" width="1.00" height="1.00" fill="#9a9a9a"/>
<rect x="12.00" y="58.80" width="1.00" height="1.00" fill="#9a9a9a"/>
<rect x="14.00" y="54.80" width="1.00" height="1.00" fill="#9a9a9a"/>
<rect x="15.00" y="56.80" width="1.00" height="1.00" fill="#9a9a9a"/>
<rect x="14.00" y="58.80" width="1.00" height="1.00" fill="#9a9a9a"/>
<rect x="16.00" y="54.80" width="1.00" height="1.00" fill="#9a9a9a"/>
<rect x="17.00" y="56.80" width="1.00" height="1.00" fill="#9a9a9a"/>
<rect x="16.00" y="58.80" width="1.00" height="1.00" fill="#9a9a9a"/>
<line x1="1.20" y1="79.60" x2="12.00" y2="68.80" stroke="#e8e8e8" stroke-width="1.8"/>
<rect x="5.30" y="89.00" width="2.20" height="15.60" fill="#e8e8e8"/>
<rect x="0.00" y="117.60" width="14.80" height="2.20" fill="#e8e8e8"/>
<path d="M0 142.4 L13.6 142.4 M9 137.6 L13.8 142.4 L9 147.2" fill="none" stroke="#e8e8e8" stroke-width="1.4"/>
<path d="M6.6 155.6 L6.6 174.2 M0 163.7 L16 163.7" fill="none" stroke="#e8e8e8" stroke-width="1.5"/>
<circle cx="6.6" cy="163.7" r="1.6" fill="#e8e8e8"/>
<line x1="0.80" y1="177.80" x2="12.30" y2="177.80" stroke="#e8e8e8" stroke-width="1.5"/>
<line x1="0.80" y1="180.60" x2="12.30" y2="180.60" stroke="#e8e8e8" stroke-width="1.1"/>
<line x1="0.80" y1="183.40" x2="12.30" y2="183.40" stroke="#e8e8e8" stroke-width="1.1"/>
<line x1="0.80" y1="186.20" x2="12.30" y2="186.20" stroke="#e8e8e8" stroke-width="1.1"/>
<line x1="0.80" y1="189.00" x2="12.30" y2="189.00" stroke="#e8e8e8" stroke-width="1.1"/>
<line x1="0.80" y1="191.80" x2="12.30" y2="191.80" stroke="#e8e8e8" stroke-width="1.1"/>
<line x1="0.80" y1="194.20" x2="12.30" y2="194.20" stroke="#e8e8e8" stroke-width="1.5"/>
<path d="M2 201.5 L6.5 201.5 L6.5 216.5 L2 216.5 Z M6.5 204.5 L14.6 204.5 L14.6 209 L6.5 209" fill="none" stroke="#dcdcdc" stroke-width="1.1"/>
<line x1="2.00" y1="205.00" x2="4.30" y2="205.00" stroke="#cfcfcf" stroke-width="0.8"/>
<line x1="2.00" y1="208.00" x2="4.30" y2="208.00" stroke="#cfcfcf" stroke-width="0.8"/>
<line x1="2.00" y1="211.00" x2="4.30" y2="211.00" stroke="#cfcfcf" stroke-width="0.8"/>
<line x1="2.00" y1="214.00" x2="4.30" y2="214.00" stroke="#cfcfcf" stroke-width="0.8"/>
<line x1="9.00" y1="204.50" x2="9.00" y2="206.60" stroke="#cfcfcf" stroke-width="0.8"/>
<line x1="11.50" y1="204.50" x2="11.50" y2="206.60" stroke="#cfcfcf" stroke-width="0.8"/>
<line x1="14.00" y1="204.50" x2="14.00" y2="206.60" stroke="#cfcfcf" stroke-width="0.8"/>
<path d="M1.2 235.5 L13.6 222.6 Q14.6 221.6 15.8 222.8 L17.4 224.4 Q18.4 225.6 17.3 226.6 L4.9 239.4 Q3.9 240.4 2.8 239.3 L1.2 237.7 Q0.2 236.6 1.2 235.5 Z" fill="none" stroke="#dcdcdc" stroke-width="1.2"/>
<line x1="4.20" y1="234.20" x2="5.70" y2="235.70" stroke="#cfcfcf" stroke-width="0.9"/>
<line x1="6.60" y1="231.70" x2="8.10" y2="233.20" stroke="#cfcfcf" stroke-width="0.9"/>
<line x1="9.00" y1="229.20" x2="10.50" y2="230.70" stroke="#cfcfcf" stroke-width="0.9"/>
<line x1="11.40" y1="226.70" x2="12.90" y2="228.20" stroke="#cfcfcf" stroke-width="0.9"/>
<line x1="13.80" y1="224.20" x2="15.30" y2="225.70" stroke="#cfcfcf" stroke-width="0.9"/>
<path d="M0 247 L15.4 253.6 M0 251 L15.4 257.6 M0 255 L13.4 260.8" fill="none" stroke="#c4c4c4" stroke-width="1.1"/>
<line x1="0.00" y1="273.50" x2="4.00" y2="273.50" stroke="#dedede" stroke-width="1.2"/>
<line x1="0.00" y1="277.00" x2="6.00" y2="277.00" stroke="#dedede" stroke-width="1.2"/>
<line x1="0.00" y1="280.50" x2="7.00" y2="280.50" stroke="#dedede" stroke-width="1.2"/>
<line x1="12.00" y1="270.50" x2="12.00" y2="283.50" stroke="#e4e4e4" stroke-width="1.4"/>
<path d="M9 273.5 L12 270.3 L15 273.5" fill="none" stroke="#e4e4e4" stroke-width="1.4"/>
<line x1="0.00" y1="290.90" x2="4.00" y2="290.90" stroke="#dedede" stroke-width="1.2"/>
<line x1="0.00" y1="294.40" x2="6.00" y2="294.40" stroke="#dedede" stroke-width="1.2"/>
<line x1="0.00" y1="297.90" x2="7.00" y2="297.90" stroke="#dedede" stroke-width="1.2"/>
<line x1="12.00" y1="287.90" x2="12.00" y2="300.90" stroke="#e4e4e4" stroke-width="1.4"/>
<path d="M9 297.7 L12 301.09999999999997 L15 297.7" fill="none" stroke="#e4e4e4" stroke-width="1.4"/>
<path d="M0 312.6 L3.6 313.2 L2.4 314.4 L3.6 318.6 L2.4 319.2 L1.2 315.6 L0 316.8 Z" fill="#d4d4d4"/>
<text x="862.60" y="39.90" font-size="12" fill="#e6e6e6" textLength="45.60" lengthAdjust="spacingAndGlyphs">Account:</text>
<rect x="863.00" y="48.00" width="301.80" height="29.50" fill="#323236" rx="3" stroke="#3b3b3f" stroke-width="1"/>
<text x="870.50" y="68.60" font-size="13.5" fill="#e6e6e6" textLength="102.80" lengthAdjust="spacingAndGlyphs">Binance (futures)</text>
<path d="M1153.2 61.2 L1160 61.2 L1156.6 65.2 Z" fill="#f2f2f2"/>
<rect x="863.30" y="82.60" width="301.20" height="58.60" fill="#2d2d30" rx="2" stroke="#38383c" stroke-width="1"/>
<text x="867.80" y="103.60" font-size="12" fill="#e6e6e6" textLength="81.50" lengthAdjust="spacingAndGlyphs">Adjust leverage</text>
<rect x="868.40" y="111.00" width="289.80" height="24.40" fill="#303034" rx="4" stroke="#1a6299" stroke-width="1.4"/>
<line x1="1013.50" y1="114.00" x2="1013.50" y2="132.50" stroke="#4a4a4e" stroke-width="1"/>
<text x="942.40" y="128.20" font-size="12" fill="#e6e6e6" text-anchor="middle" textLength="29.00" lengthAdjust="spacingAndGlyphs">Cross</text>
<text x="1086.00" y="128.20" font-size="12" fill="#e6e6e6" text-anchor="middle" textLength="18.60" lengthAdjust="spacingAndGlyphs">20x</text>
<rect x="912.80" y="146.10" width="59.40" height="25.00" fill="#1f1f21" stroke="#36363a" stroke-width="1"/>
<line x1="862.60" y1="169.80" x2="912.80" y2="169.80" stroke="#3a3a3e" stroke-width="1"/>
<text x="874.50" y="163.50" font-size="12" fill="#e6e6e6" textLength="25.30" lengthAdjust="spacingAndGlyphs">Limit</text>
<text x="923.80" y="163.50" font-size="12" fill="#2170ad" textLength="37.00" lengthAdjust="spacingAndGlyphs">Market</text>
<text x="985.50" y="163.50" font-size="12" fill="#e6e6e6" textLength="49.00" lengthAdjust="spacingAndGlyphs">Stop limit</text>
<path d="M1038.5 156.6 L1046.4 156.6 L1042.45 163.2 Z" fill="#f0f0f0"/>
<rect x="862.80" y="170.60" width="301.40" height="136.50" fill="#1f1f21" stroke="#2e2e31" stroke-width="1"/>
<text x="875.20" y="195.30" font-size="12" fill="#ececec" font-weight="bold" textLength="49.30" lengthAdjust="spacingAndGlyphs">Available:</text>
<text x="930.00" y="195.30" font-size="12" fill="#41d46a" font-weight="bold" textLength="75.30" lengthAdjust="spacingAndGlyphs">2,941.07 USD</text>
<circle cx="1144.3" cy="190.5" r="7" fill="#1f86e0"/>
<rect x="1143.30" y="189.00" width="2.10" height="5.80" fill="#ffffff"/>
<rect x="1142.40" y="189.00" width="1.40" height="1.00" fill="#ffffff"/>
<rect x="1142.50" y="194.00" width="4.00" height="1.00" fill="#ffffff"/>
<circle cx="1144.4" cy="186.4" r="1.2" fill="#ffffff"/>
<rect x="875.20" y="202.00" width="277.30" height="28.20" fill="#333336" rx="4"/>
<line x1="1101.20" y1="203.00" x2="1101.20" y2="229.20" stroke="#2b2b2e" stroke-width="1"/>
<text x="880.70" y="222.00" font-size="13.5" fill="#8a8a8a" textLength="24.60" lengthAdjust="spacingAndGlyphs">Size</text>
<text x="1091.80" y="220.80" font-size="13.5" fill="#e6e6e6" text-anchor="end" textLength="33.10" lengthAdjust="spacingAndGlyphs">0.010</text>
<text x="1105.50" y="221.20" font-size="13.5" fill="#e6e6e6" textLength="21.70" lengthAdjust="spacingAndGlyphs">BTC</text>
<path d="M1132 215 L1139.5 215 L1135.75 218.8 Z" fill="#f2f2f2"/>
<rect x="882.00" y="239.30" width="269.80" height="2.70" fill="#a6a6a6" rx="1"/>
<rect x="875.90" y="235.00" width="6.20" height="11.60" fill="#f0f0f0" rx="1"/>
<line x1="878.00" y1="248.70" x2="878.00" y2="251.40" stroke="#7a7a7a" stroke-width="1"/>
<text x="878.00" y="265.30" font-size="9" fill="#d6d6d6" font-weight="bold" text-anchor="middle" textLength="12.20" lengthAdjust="spacingAndGlyphs">0%</text>
<line x1="945.60" y1="248.70" x2="945.60" y2="251.40" stroke="#7a7a7a" stroke-width="1"/>
<text x="945.60" y="265.30" font-size="9" fill="#d6d6d6" font-weight="bold" text-anchor="middle" textLength="16.50" lengthAdjust="spacingAndGlyphs">25%</text>
<line x1="1013.30" y1="248.70" x2="1013.30" y2="251.40" stroke="#7a7a7a" stroke-width="1"/>
<text x="1013.30" y="265.30" font-size="9" fill="#d6d6d6" font-weight="bold" text-anchor="middle" textLength="16.50" lengthAdjust="spacingAndGlyphs">50%</text>
<line x1="1081.00" y1="248.70" x2="1081.00" y2="251.40" stroke="#7a7a7a" stroke-width="1"/>
<text x="1081.00" y="265.30" font-size="9" fill="#d6d6d6" font-weight="bold" text-anchor="middle" textLength="16.50" lengthAdjust="spacingAndGlyphs">75%</text>
<line x1="1148.40" y1="248.70" x2="1148.40" y2="251.40" stroke="#7a7a7a" stroke-width="1"/>
<text x="1148.40" y="265.30" font-size="9" fill="#d6d6d6" font-weight="bold" text-anchor="middle" textLength="20.60" lengthAdjust="spacingAndGlyphs">100%</text>
<rect x="876.40" y="271.30" width="203.60" height="24.20" fill="none" rx="4" stroke="#3c3c40" stroke-width="1"/>
<text x="978.00" y="288.00" font-size="12" fill="#e6e6e6" text-anchor="middle" textLength="24.60" lengthAdjust="spacingAndGlyphs">OCO</text>
<text x="1086.00" y="288.00" font-size="12" fill="#e6e6e6" textLength="17.20" lengthAdjust="spacingAndGlyphs">TIF:</text>
<text x="1111.40" y="288.00" font-size="12" fill="#e6e6e6" textLength="21.30" lengthAdjust="spacingAndGlyphs">GTC</text>
<path d="M1140.2 282.5 L1148.4 282.5 L1144.3000000000002 286.2 Z" fill="#f2f2f2"/>
<path d="M866.8 314 L991.6 314 L1012.2 330.4 L1012.2 336 Q1012.2 340 1008.2 340 L866.8 340 Q862.8 340 862.8 336 L862.8 318 Q862.8 314 866.8 314 Z" fill="#4eb262"/>
<path d="M991.6 314 L1008.2 314 Q1012.2 314 1012.2 318 L1012.2 330.4 Z" fill="#3d3d41"/>
<text x="1008.00" y="323.00" font-size="10" fill="#dcdcdc" font-weight="bold" text-anchor="middle" style="font-family:'Liberation Serif',serif">i</text>
<text x="938.00" y="332.50" font-size="12" fill="#f4f4f4" font-weight="bold" text-anchor="middle" textLength="54.10" lengthAdjust="spacingAndGlyphs">Buy/Long</text>
<path d="M1020.5 314 L1145 314 L1164.8 330.4 L1164.8 336 Q1164.8 340 1160.8 340 L1020.5 340 Q1016.5 340 1016.5 336 L1016.5 318 Q1016.5 314 1020.5 314 Z" fill="#bf5657"/>
<path d="M1145 314 L1160.8 314 Q1164.8 314 1164.8 318 L1164.8 330.4 Z" fill="#3d3d41"/>
<text x="1160.60" y="323.00" font-size="10" fill="#dcdcdc" font-weight="bold" text-anchor="middle" style="font-family:'Liberation Serif',serif">i</text>
<text x="1090.50" y="332.50" font-size="12" fill="#f4f4f4" font-weight="bold" text-anchor="middle" textLength="57.00" lengthAdjust="spacingAndGlyphs">Sell/Short</text>
<text x="862.60" y="357.80" font-size="12" fill="#e6e6e6" textLength="66.70" lengthAdjust="spacingAndGlyphs">Cost: 0 USDT</text>
<text x="1164.20" y="357.80" font-size="12" fill="#e6e6e6" text-anchor="end" textLength="88.40" lengthAdjust="spacingAndGlyphs">Cost: 28.48 USDT</text>
<text x="862.60" y="379.70" font-size="12" fill="#e6e6e6" textLength="79.00" lengthAdjust="spacingAndGlyphs">Max: 1.231 BTC</text>
<text x="1164.80" y="379.70" font-size="12" fill="#e6e6e6" text-anchor="end" textLength="79.00" lengthAdjust="spacingAndGlyphs">Max: 0.848 BTC</text>
<rect x="862.20" y="386.60" width="149.70" height="25.30" fill="#5a78b4" rx="4"/>
<rect x="862.20" y="418.00" width="149.70" height="24.70" fill="#5a78b4" rx="4"/>
<rect x="1016.90" y="386.60" width="147.90" height="25.30" fill="#983838" rx="4"/>
<rect x="1016.90" y="418.00" width="147.90" height="24.70" fill="#983838" rx="4"/>
<text x="937.80" y="404.40" font-size="12" fill="#f6f6f6" font-weight="bold" text-anchor="middle" textLength="44.50" lengthAdjust="spacingAndGlyphs">Buy Ask</text>
<text x="936.80" y="435.60" font-size="12" fill="#f6f6f6" font-weight="bold" text-anchor="middle" textLength="42.40" lengthAdjust="spacingAndGlyphs">Buy Bid</text>
<text x="1091.50" y="404.40" font-size="12" fill="#f6f6f6" font-weight="bold" text-anchor="middle" textLength="43.90" lengthAdjust="spacingAndGlyphs">Sell Ask</text>
<text x="1091.20" y="435.60" font-size="12" fill="#f6f6f6" font-weight="bold" text-anchor="middle" textLength="41.70" lengthAdjust="spacingAndGlyphs">Sell Bid</text>
<rect x="862.80" y="446.80" width="148.70" height="28.20" fill="#333336" rx="4"/>
<rect x="862.80" y="478.40" width="148.70" height="25.10" fill="#333336" rx="4"/>
<rect x="1016.20" y="446.80" width="148.60" height="28.20" fill="#333336" rx="4"/>
<rect x="1016.20" y="478.40" width="148.60" height="25.10" fill="#333336" rx="4"/>
<text x="937.20" y="465.30" font-size="12" fill="#f0f0f0" font-weight="bold" text-anchor="middle" textLength="58.30" lengthAdjust="spacingAndGlyphs">Cancel Bid</text>
<text x="1091.00" y="465.30" font-size="12" fill="#f0f0f0" font-weight="bold" text-anchor="middle" textLength="60.70" lengthAdjust="spacingAndGlyphs">Cancel Ask</text>
<text x="937.20" y="494.10" font-size="12" fill="#f0f0f0" font-weight="bold" text-anchor="middle" textLength="55.50" lengthAdjust="spacingAndGlyphs">Cancel All</text>
<text x="1091.20" y="494.10" font-size="12" fill="#f0f0f0" font-weight="bold" text-anchor="middle" textLength="43.20" lengthAdjust="spacingAndGlyphs">Reverse</text>
<rect x="862.20" y="506.40" width="302.60" height="25.30" fill="#368a41" rx="4"/>
<text x="1013.20" y="523.80" font-size="12" fill="#f0f0f0" font-weight="bold" text-anchor="middle" textLength="29.40" lengthAdjust="spacingAndGlyphs">Close</text>
<rect x="862.90" y="539.20" width="301.10" height="23.60" fill="#2b2b2e" stroke="#3b3b3f" stroke-width="1"/>
<text x="1013.30" y="555.60" font-size="12" fill="#b2b2b2" text-anchor="middle" textLength="28.40" lengthAdjust="spacingAndGlyphs">$0.67</text>
<rect x="862.80" y="568.00" width="149.40" height="23.20" fill="#b03c3c"/>
<text x="937.30" y="584.80" font-size="12" fill="#f6dede" text-anchor="middle" textLength="25.30" lengthAdjust="spacingAndGlyphs">-0.01</text>
<rect x="1016.60" y="567.60" width="147.60" height="23.80" fill="#2b2b2e" stroke="#3b3b3f" stroke-width="1"/>
<text x="1090.90" y="584.80" font-size="12" fill="#b6b6b6" text-anchor="middle" textLength="41.00" lengthAdjust="spacingAndGlyphs">57020.0</text>
<rect x="862.80" y="599.90" width="51.40" height="24.00" fill="#1f1f21"/>
<text x="873.80" y="617.00" font-size="12" fill="#2170ad" textLength="30.20" lengthAdjust="spacingAndGlyphs">SL/TP</text>
<text x="927.90" y="617.00" font-size="12" fill="#e6e6e6" textLength="51.40" lengthAdjust="spacingAndGlyphs">Advanced</text>
<rect x="862.80" y="623.80" width="301.40" height="99.60" fill="#1f1f21" stroke="#2e2e31" stroke-width="1"/>
<rect x="868.60" y="634.40" width="33.30" height="18.50" fill="#1a7fd6" rx="9.25"/>
<circle cx="892" cy="643.6" r="6.3" fill="#ffffff"/>
<text x="908.70" y="648.80" font-size="14" fill="#e6e6e6" textLength="58.30" lengthAdjust="spacingAndGlyphs">Stop Loss</text>
<rect x="868.60" y="666.40" width="32.60" height="18.00" fill="#38383b" rx="9"/>
<circle cx="879" cy="675.6" r="6.3" fill="#ffffff"/>
<text x="906.70" y="680.30" font-size="14" fill="#e6e6e6" textLength="63.00" lengthAdjust="spacingAndGlyphs">Take Profit</text>
<rect x="976.50" y="628.90" width="102.00" height="28.10" fill="#333336" rx="4"/>
<rect x="1082.00" y="629.20" width="76.70" height="27.80" fill="#333336" rx="4"/>
<text x="1052.50" y="648.80" font-size="14" fill="#e6e6e6" text-anchor="end" textLength="16.50" lengthAdjust="spacingAndGlyphs">0.1</text>
<path d="M1066.2 639.1999999999999 L1074.4 639.1999999999999 L1070.3000000000002 635.1999999999999 Z" fill="#f0f0f0"/>
<path d="M1066.2 647.4 L1074.4 647.4 L1070.3000000000002 651.5 Z" fill="#f0f0f0"/>
<text x="1089.50" y="648.80" font-size="14" fill="#e6e6e6" textLength="45.90" lengthAdjust="spacingAndGlyphs">Percent</text>
<path d="M1146.4 642.1 L1153.9 642.1 L1150.15 645.6999999999999 Z" fill="#f2f2f2"/>
<rect x="976.50" y="661.10" width="102.00" height="28.10" fill="#333336" rx="4"/>
<rect x="1082.00" y="661.40" width="76.70" height="27.80" fill="#333336" rx="4"/>
<text x="1054.00" y="681.00" font-size="14" fill="#e6e6e6" text-anchor="end" textLength="17.50" lengthAdjust="spacingAndGlyphs">1.0</text>
<path d="M1066.2 671.4 L1074.4 671.4 L1070.3000000000002 667.4 Z" fill="#f0f0f0"/>
<path d="M1066.2 679.6 L1074.4 679.6 L1070.3000000000002 683.7 Z" fill="#f0f0f0"/>
<text x="1089.50" y="681.00" font-size="14" fill="#e6e6e6" textLength="45.90" lengthAdjust="spacingAndGlyphs">Percent</text>
<path d="M1146.4 674.3000000000001 L1153.9 674.3000000000001 L1150.15 677.9 Z" fill="#f2f2f2"/>
<rect x="868.30" y="697.40" width="13.00" height="13.00" fill="#38383b" rx="2.5"/>
<text x="886.40" y="709.70" font-size="12" fill="#e2e2e2" textLength="53.80" lengthAdjust="spacingAndGlyphs">Breakeven</text>
<text x="944.40" y="709.70" font-size="12" fill="#2a7fd0" textLength="26.60" lengthAdjust="spacingAndGlyphs">5/1 T</text>
<line x1="944.40" y1="711.30" x2="971.00" y2="711.30" stroke="#2a7fd0" stroke-width="0.9"/>
<rect x="1065.50" y="697.40" width="13.00" height="13.00" fill="#38383b" rx="2.5"/>
<text x="1083.30" y="709.70" font-size="12" fill="#e2e2e2" textLength="37.00" lengthAdjust="spacingAndGlyphs">Trailing</text>
<text x="1124.40" y="709.70" font-size="12" fill="#2a7fd0" textLength="33.60" lengthAdjust="spacingAndGlyphs">5/10 T</text>
<line x1="1124.40" y1="711.30" x2="1158.00" y2="711.30" stroke="#2a7fd0" stroke-width="0.9"/>
<rect x="863.30" y="729.50" width="300.90" height="55.00" fill="#2d2d30" rx="2" stroke="#38383c" stroke-width="1"/>
<text x="868.60" y="745.60" font-size="12" fill="#e6e6e6" textLength="97.00" lengthAdjust="spacingAndGlyphs">Trading from chart</text>
<rect x="869.00" y="750.10" width="38.00" height="27.40" fill="#1f1f21"/>
<rect x="907.00" y="750.10" width="251.20" height="27.40" fill="#333336" stroke="#3c3c40" stroke-width="0.8"/>
<path d="M881.3 763.8 L886.3 761 L886.3 766.6 Z M894.4 763.8 L889.4 761 L889.4 766.6 Z" fill="#1a7fd6"/>
<text x="1033.00" y="768.00" font-size="12" fill="#f0f0f0" font-weight="bold" text-anchor="middle" textLength="23.50" lengthAdjust="spacingAndGlyphs">OFF</text>
</svg>
</body></html>
